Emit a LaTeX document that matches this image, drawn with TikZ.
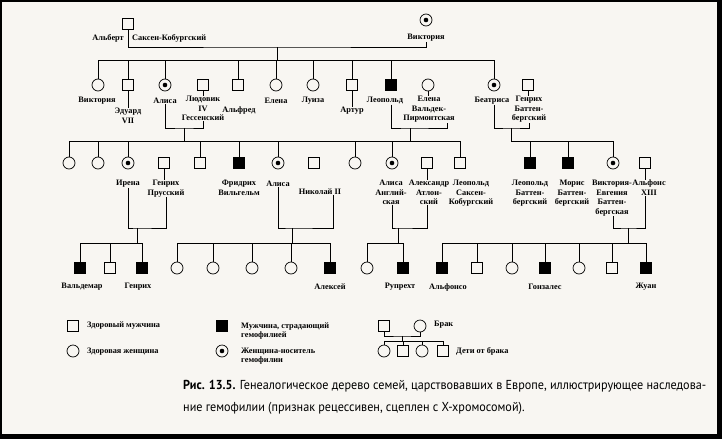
\documentclass[tikz,border=0pt]{standalone}
\usepackage{graphicx}
\usepackage{fontspec}
\setmainfont{Liberation Serif}
\newfontfamily\capfont{PT Sans}
\definecolor{paper}{RGB}{248,246,242}

\tikzset{
    male/.style={draw, minimum size=11pt, inner sep=0pt, line width=.7pt},
    sick/.style={male, fill},
    female/.style={draw, circle, minimum size=12pt, inner sep=0pt, line width=.7pt},
    carrier/.style={female, path picture={\fill (path picture bounding box.center) circle (2.3pt);}},
    lbl/.style={font=\bfseries\fontsize{8.3}{9.5}\selectfont, align=center, inner sep=0pt},
    kin/.style={line width=.7pt},
}

\begin{document}
\begin{tikzpicture}[x=1pt, y=-1pt]

        % scan frame
        \fill[black] (0,0) rectangle (722,439);
        \fill[paper] (2,2) rectangle (717,434);

        % generation 0
        \node[male] (albert) at (128,24) {};
        \node[carrier] (victoria) at (426,20) {};
        \node[lbl, anchor=east] (albertlbl) at (124,38) {Альберт};
        \node[lbl, anchor=west] (albertlbl2) at (132,38) {Саксен-Кобургский};
        \node[lbl] (victorialbl) at (426,38) {Виктория};
        \coordinate (wed0) at (277,47);
        \coordinate (bar1) at (277,60);
        \draw[kin] (albert) |- (wed0) -| (victorialbl);
        \draw[kin] (wed0) -- (bar1);

        % generation 1
        \foreach \n/\x/\k in {%
            vica/98/female,
            edward/128/male,
            alice/165/carrier,
            alfred/238/male,
            helena/276/female,
            louise/313/female,
            arthur/352/male,
            leopold/391/sick,
            beatrice/494/carrier%
        }{
            \node[\k] (\n) at (\x,85) {};
            \draw[kin] (\n) -- (\n |- bar1);
        }
        \draw[kin] (vica |- bar1) -- (beatrice |- bar1);

        \node[male] (ludwig) at (203,85) {};
        \node[female] (helenaw) at (428,85) {};
        \node[male] (henryb) at (528,85) {};

        \node[lbl] (vicalbl) at (97,101) {Виктория};
        \node[lbl, anchor=north] (edwardlbl) at (128,108) {Эдуард\\VII};
        \node[lbl] (alicelbl) at (165,101) {Алиса};
        \node[lbl, anchor=north] (ludwiglbl) at (203,96) {Людовик\\IV\\Гессенский};
        \node[lbl] (alfredlbl) at (239,111) {Альфред};
        \node[lbl] (helenalbl) at (276,101) {Елена};
        \node[lbl] (louiselbl) at (313,101) {Луиза};
        \node[lbl] (arthurlbl) at (352,111) {Артур};
        \node[lbl] (leopoldlbl) at (385,101) {Леопольд};
        \node[lbl, anchor=north] (helenawlbl) at (429,96) {Елена\\Вальдек-\\Пирмонтская};
        \node[lbl] (beatricelbl) at (492,101) {Беатриса};
        \node[lbl, anchor=north] (henryblbl) at (529,96) {Генрих\\Баттен-\\бергский};

        \draw[kin] (edward) -- (edwardlbl);
        \draw[kin] (ludwig) -- (ludwiglbl);
        \draw[kin] (arthur) -- (arthurlbl);
        \draw[kin] (helenaw) -- (helenaw |- helenawlbl.north);
        \draw[kin] (henryb) -- (henryb |- henryblbl.north);

        \coordinate (wed1a) at (184,128);
        \coordinate (wed1b) at (410,128);
        \coordinate (wed1c) at (511,128);
        \draw[kin] (alice |- alicelbl.south) |- (wed1a) -| (ludwiglbl);
        \draw[kin] (leopold |- leopoldlbl.south) |- (wed1b) -| ([xshift=18pt]helenawlbl.south);
        \draw[kin] (beatrice |- beatricelbl.south) |- (wed1c) -| (henryblbl);

        % generation 2
        \coordinate (bar2a) at (184,141);
        \coordinate (bar2b) at (410,141);
        \coordinate (bar2c) at (511,141);
        \draw[kin] (wed1a) -- (bar2a);
        \draw[kin] (wed1b) -- (bar2b);
        \draw[kin] (wed1c) -- (bar2c);

        \foreach \n/\x/\k/\b in {%
            hesa/69/female/bar2a,
            hesb/98/female/bar2a,
            irena/128/carrier/bar2a,
            ernst/200/male/bar2a,
            friedrich/239/sick/bar2a,
            alix/278/carrier/bar2a,
            mary/355/female/bar2a,
            alicea/392/carrier/bar2b,
            leopoldsc/460/male/bar2b,
            leopoldb/530/sick/bar2c,
            maurice/568/sick/bar2c,
            viceug/613/carrier/bar2c%
        }{
            \node[\k] (\n) at (\x,163) {};
            \draw[kin] (\n) -- (\n |- \b);
        }
        \draw[kin] (hesa |- bar2a) -- (leopoldsc |- bar2b);
        \draw[kin] (bar2c) -- (viceug |- bar2c);

        \node[male] (henryp) at (164,163) {};
        \node[male] (nicholas) at (314,163) {};
        \node[male] (alexander) at (427,163) {};
        \node[male] (alfonsoxiii) at (645,163) {};

        \node[lbl] (irenalbl) at (128,184) {Ирена};
        \node[lbl, anchor=north] (henryplbl) at (166,180) {Генрих\\Прусский};
        \node[lbl, anchor=north] (friedrichlbl) at (239,180) {Фридрих\\Вильгельм};
        \node[lbl] (alixlbl) at (278,184) {Алиса};
        \node[lbl] (nicholaslbl) at (320,192) {Николай II};
        \node[lbl, anchor=north] (alicealbl) at (391,180) {Алиса\\Англий-\\ская};
        \node[lbl, anchor=north] (alexanderlbl) at (429,180) {Александр\\Атлон-\\ский};
        \node[lbl, anchor=north] (leopoldsclbl) at (471,180) {Леопольд\\Саксен-\\Кобургский};
        \node[lbl, anchor=north] (leopoldblbl) at (530,180) {Леопольд\\Баттен-\\бергский};
        \node[lbl, anchor=north] (mauricelbl) at (572,180) {Морис\\Баттен-\\бергский};
        \node[lbl, anchor=north] (viceuglbl) at (612,180) {Виктория-\\Евгения\\Баттен-\\бергская};
        \node[lbl, anchor=north] (alfonsoxiiilbl) at (649,180) {Альфонс\\XIII};

        \draw[kin] (henryp) -- (henryp |- henryplbl.north);
        \draw[kin] (alexander) -- (alexander |- alexanderlbl.north);
        \draw[kin] (alfonsoxiii) -- (alfonsoxiii |- alfonsoxiiilbl.north);

        \coordinate (wed2a) at (137,228);
        \coordinate (wed2b) at (292,228);
        \coordinate (wed2c) at (398,228);
        \coordinate (wed2d) at (628,228);
        \draw[kin] (irena |- irenalbl.south) |- (wed2a) -| (henryplbl);
        \draw[kin] (alix |- alixlbl.south) |- (wed2b) -| ([xshift=13pt]nicholaslbl.south);
        \draw[kin] (alicea |- alicealbl.south) |- (wed2c) -| (alexander |- alexanderlbl.south);
        \draw[kin] (viceug |- viceuglbl.south) |- (wed2d) -| (alfonsoxiii |- alfonsoxiiilbl.south);

        % generation 3
        \coordinate (bar3a) at (137,243);
        \coordinate (bar3b) at (292,243);
        \coordinate (bar3c) at (398,243);
        \coordinate (bar3d) at (628,243);
        \draw[kin] (wed2a) -- (bar3a);
        \draw[kin] (wed2b) -- (bar3b);
        \draw[kin] (wed2c) -- (bar3c);
        \draw[kin] (wed2d) -- (bar3d);

        \foreach \n/\x/\k/\b in {%
            waldemar/80/sick/bar3a,
            sigismund/110/male/bar3a,
            henryi/142/sick/bar3a,
            olga/177/female/bar3b,
            tatiana/213/female/bar3b,
            maria/252/female/bar3b,
            anastasia/291/female/bar3b,
            alexei/330/sick/bar3b,
            may/367/female/bar3c,
            rupert/403/sick/bar3c,
            alfonso/442/sick/bar3d,
            jaime/477/male/bar3d,
            beatriz/512/female/bar3d,
            gonsales/545/sick/bar3d,
            cristina/579/female/bar3d,
            fernando/612/male/bar3d,
            zhuan/646/sick/bar3d%
        }{
            \node[\k] (\n) at (\x,268) {};
            \draw[kin] (\n) -- (\n |- \b);
        }
        \draw[kin] (waldemar |- bar3a) -- (henryi |- bar3a);
        \draw[kin] (olga |- bar3b) -- (alexei |- bar3b);
        \draw[kin] (may |- bar3c) -- (rupert |- bar3c);
        \draw[kin] (alfonso |- bar3d) -- (zhuan |- bar3d);

        \node[lbl] (waldemarlbl) at (82,287) {Вальдемар};
        \node[lbl] (henryilbl) at (138,287) {Генрих};
        \node[lbl] (alexeilbl) at (330,287) {Алексей};
        \node[lbl] (rupertlbl) at (400,287) {Рупрехт};
        \node[lbl] (alfonsolbl) at (448,287) {Альфонсо};
        \node[lbl] (gonsaleslbl) at (545,287) {Гонзалес};
        \node[lbl] (zhuanlbl) at (646,287) {Жуан};

        % key
        \node[male] (keymale) at (73,326) {};
        \node[female] (keyfemale) at (73,351) {};
        \node[sick] (keysick) at (222,326) {};
        \node[carrier] (keycarrier) at (222,351) {};
        \node[lbl, anchor=west] (keymalelbl) at (87,326) {Здоровый мужчина};
        \node[lbl, anchor=west] (keyfemalelbl) at (87,352) {Здоровая женщина};
        \node[lbl, anchor=west, align=left] (keysicklbl) at (241,331) {Мужчина, страдающий\\гемофилией};
        \node[lbl, anchor=west, align=left] (keycarrierlbl) at (241,356) {Женщина-носитель\\гемофилии};

        \node[male] (keyhusb) at (384,326) {};
        \node[female] (keywife) at (420,326) {};
        \node[lbl, anchor=west] (keywedlbl) at (434,325) {Брак};
        \coordinate (keywed) at (402,336);
        \coordinate (keybar) at (402,341);
        \draw[kin] (keyhusb) |- (keywed) -| (keywife);
        \draw[kin] (keywed) -- (keybar);
        \foreach \n/\x/\k in {keyc1/384/female, keyc2/403/male, keyc3/422/female, keyc4/443/male}{
            \node[\k] (\n) at (\x,351) {};
            \draw[kin] (\n) -- (\n |- keybar);
        }
        \draw[kin] (keyc1 |- keybar) -- (keyc4 |- keybar);
        \node[lbl, anchor=west] (keychildlbl) at (456,351) {Дети от брака};

        % caption
        \node[anchor=north west, inner sep=0pt,
              font=\capfont\fontsize{13}{22}\selectfont] (caption) at (183,374)
            {\resizebox{523pt}{\height}{\begin{tabular}{@{}l@{}}
             \textbf{Рис. 13.5.} Генеалогическое дерево семей, царствовавших в Европе, иллюстрирующее наследова-\\
             ние гемофилии (признак рецессивен, сцеплен с Х-хромосомой).
             \end{tabular}}};

\end{tikzpicture}
\end{document}
